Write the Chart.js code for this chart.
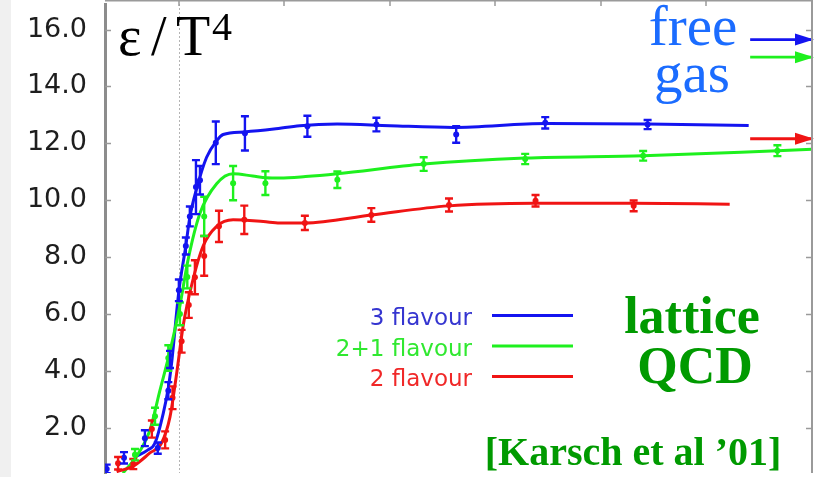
<!DOCTYPE html>
<html>
<head>
<meta charset="utf-8">
<script src="https://cdn.jsdelivr.net/npm/chart.js@4/dist/chart.umd.min.js"></script>
<style>
  html, body { margin: 0; padding: 0; background: #fff; }
  #wrap { position: relative; width: 816px; height: 477px; overflow: hidden; }
</style>
</head>
<body>
<div id="wrap"><canvas id="c" width="816" height="477"></canvas></div>
<script>
// ---------- data ----------
const yTicks = [2, 4, 6, 8, 10, 12, 14, 16];
const xTopTicks = [1.0, 1.5, 2.0, 2.5, 3.0, 3.5, 4.0];
const tcValue = 1.0;

const seriesNames = ['3 flavour', '2+1 flavour', '2 flavour'];

// smooth fit curves
const blueCurveX = [0.80, 0.85, 0.887, 0.926, 0.95, 0.966, 1.0, 1.033, 1.052, 1.084, 1.131, 1.178, 1.21, 1.31, 1.45, 1.573, 1.75, 2.0, 2.3, 2.74, 3.22, 3.70];
const blueCurveY = [1.0, 1.2, 1.46, 2.5, 3.4, 4.3, 6.8, 8.4, 9.4, 10.4, 11.5, 12.08, 12.31, 12.4, 12.5, 12.62, 12.68, 12.62, 12.56, 12.7, 12.68, 12.63];

const greenCurveX = [0.735, 0.80, 0.863, 0.91, 0.958, 1.005, 1.044, 1.10, 1.179, 1.257, 1.35, 1.415, 1.478, 1.60, 1.751, 2.16, 2.641, 3.20, 3.836, 4.0];
const greenCurveY = [0.40, 1.0, 1.92, 3.3, 4.69, 6.3, 7.92, 9.54, 10.58, 10.93, 10.85, 10.79, 10.78, 10.83, 10.93, 11.27, 11.48, 11.56, 11.74, 11.79];

const redCurveX = [0.705, 0.784, 0.863, 0.918, 0.958, 0.989, 1.021, 1.06, 1.115, 1.179, 1.257, 1.40, 1.478, 1.597, 1.912, 2.278, 2.685, 3.149, 3.61];
const redCurveY = [0.45, 0.65, 1.11, 1.46, 2.38, 3.88, 5.61, 7.0, 8.39, 9.08, 9.31, 9.25, 9.2, 9.2, 9.48, 9.8, 9.89, 9.89, 9.86];

// lattice data points with errors
const bluePtsX = [0.658, 0.740, 0.839, 0.90, 0.95, 0.958, 1.0, 1.033, 1.052, 1.081, 1.10, 1.175, 1.313, 1.609, 1.936, 2.314, 2.736, 3.221];
const bluePtsY = [0.55, 0.94, 1.63, 1.28, 3.3, 4.4, 6.83, 8.39, 9.43, 10.46, 10.7, 12.02, 12.35, 12.6, 12.66, 12.31, 12.72, 12.66];
const bluePtsErr = [0.15, 0.2, 0.28, 0.2, 0.3, 0.3, 0.38, 0.3, 0.35, 0.95, 0.5, 0.75, 0.6, 0.37, 0.24, 0.29, 0.2, 0.16];

const greenPtsX = [0.792, 0.887, 0.95, 1.005, 1.04, 1.12, 1.257, 1.41, 1.751, 2.16, 2.641, 3.20, 3.836];
const greenPtsY = [1.05, 2.4, 4.45, 6.0, 7.3, 9.43, 10.6, 10.6, 10.72, 11.27, 11.45, 11.56, 11.74];
const greenPtsErr = [0.2, 0.3, 0.45, 0.4, 0.4, 0.69, 0.6, 0.42, 0.29, 0.24, 0.18, 0.17, 0.19];

const redPtsX = [0.712, 0.784, 0.872, 0.935, 0.97, 1.013, 1.047, 1.076, 1.12, 1.19, 1.31, 1.597, 1.912, 2.28, 2.69, 3.155];
const redPtsY = [0.75, 0.72, 1.95, 1.57, 3.05, 5.04, 6.31, 7.29, 8.04, 9.08, 9.31, 9.2, 9.48, 9.83, 9.98, 9.8];
const redPtsErr = [0.22, 0.18, 0.3, 0.3, 0.4, 0.4, 0.45, 0.6, 0.7, 0.55, 0.5, 0.25, 0.24, 0.23, 0.2, 0.19];

// free gas (Stefan-Boltzmann) limits
const sbX = [3.707, 4.0];
const sbBlue = 15.65;
const sbGreen = 15.03;
const sbRed = 12.16;

// ---------- helpers ----------
const pts = (xs, ys) => xs.map((x, i) => ({ x: x, y: ys[i] }));
const BLUE = '#1414f0', GREEN = '#1ef01e', RED = '#f01414';

function curve(xs, ys, color) {
  return { data: pts(xs, ys), showLine: true, borderColor: color, backgroundColor: color,
    borderWidth: 3, pointRadius: 0, cubicInterpolationMode: 'monotone', order: 2 };
}
function points(xs, ys, errs, color) {
  return { data: pts(xs, ys), errors: errs, showLine: false, borderColor: color, backgroundColor: color,
    pointRadius: 3, pointStyle: 'circle', borderWidth: 0, order: 1 };
}
function arrow(v, color) {
  return { data: pts(sbX, [v, v]), arrow: true, showLine: true, borderColor: color, backgroundColor: color,
    borderWidth: 2.8, pointRadius: 0, clip: false, order: 0 };
}

// ---------- plugins ----------
const bgPlugin = {
  id: 'bg',
  beforeDraw(chart) {
    const ctx = chart.ctx;
    ctx.save();
    ctx.fillStyle = '#ffffff';
    ctx.fillRect(0, 0, chart.width, chart.height);
    ctx.fillStyle = '#f0f0f0';
    ctx.fillRect(0, 0, 11, chart.height);
    ctx.restore();
  },
  beforeDatasetsDraw(chart) {
    const { ctx, chartArea: a, scales: { x } } = chart;
    ctx.save();
    ctx.strokeStyle = '#b4b4b4';
    ctx.lineWidth = 1;
    ctx.setLineDash([2, 2]);
    const px = Math.round(x.getPixelForValue(tcValue)) + 0.5;
    ctx.beginPath(); ctx.moveTo(px, a.top); ctx.lineTo(px, a.bottom); ctx.stroke();
    ctx.restore();
  }
};

const errorBars = {
  id: 'errorBars',
  afterDatasetsDraw(chart) {
    const { ctx, chartArea: a, scales: { x, y } } = chart;
    ctx.save();
    ctx.beginPath(); ctx.rect(a.left, a.top, a.right - a.left, a.bottom - a.top); ctx.clip();
    chart.data.datasets.forEach(ds => {
      if (!ds.errors) return;
      ctx.strokeStyle = ds.borderColor;
      ctx.lineWidth = 2.4;
      ds.data.forEach((p, j) => {
        const px = x.getPixelForValue(p.x);
        const y1 = y.getPixelForValue(p.y - ds.errors[j]);
        const y2 = y.getPixelForValue(p.y + ds.errors[j]);
        ctx.beginPath();
        ctx.moveTo(px, y1); ctx.lineTo(px, y2);
        ctx.moveTo(px - 4, y1); ctx.lineTo(px + 4, y1);
        ctx.moveTo(px - 4, y2); ctx.lineTo(px + 4, y2);
        ctx.stroke();
      });
    });
    ctx.restore();
    // arrow heads
    ctx.save();
    chart.data.datasets.forEach(ds => {
      if (!ds.arrow) return;
      const last = ds.data[ds.data.length - 1];
      const px = x.getPixelForValue(last.x) + 2;
      const py = y.getPixelForValue(last.y);
      ctx.fillStyle = ds.borderColor;
      ctx.beginPath();
      ctx.moveTo(px, py); ctx.lineTo(px - 19, py - 6); ctx.lineTo(px - 19, py + 6); ctx.closePath();
      ctx.fill();
    });
    ctx.restore();
  }
};

const framePlugin = {
  id: 'frame',
  afterDraw(chart) {
    const { ctx, chartArea: a, scales: { x, y } } = chart;
    ctx.save();
    ctx.strokeStyle = '#9a9a9a';
    // top border
    ctx.lineWidth = 1.5;
    ctx.beginPath(); ctx.moveTo(a.left, 0.75); ctx.lineTo(a.right, 0.75); ctx.stroke();
    // right border
    ctx.lineWidth = 2;
    ctx.beginPath(); ctx.moveTo(a.right, 0); ctx.lineTo(a.right, a.bottom); ctx.stroke();
    // top ticks
    ctx.lineWidth = 1.5;
    xTopTicks.forEach(v => {
      const px = Math.round(x.getPixelForValue(v));
      ctx.beginPath(); ctx.moveTo(px, 0); ctx.lineTo(px, 6); ctx.stroke();
    });
    // left / right inner ticks
    yTicks.forEach(v => {
      const py = Math.round(y.getPixelForValue(v)) + 0.5;
      ctx.beginPath(); ctx.moveTo(a.left, py); ctx.lineTo(a.left + 6, py); ctx.stroke();
      ctx.beginPath(); ctx.moveTo(a.right, py); ctx.lineTo(a.right - 6, py); ctx.stroke();
    });
    ctx.restore();

    // annotations
    ctx.save();
    ctx.textBaseline = 'alphabetic';
    ctx.fillStyle = '#000';
    ctx.font = '56px "Liberation Serif"';
    ctx.textAlign = 'left';
    ctx.fillText('ε', 118, 55);
    ctx.fillText('/', 151, 55);
    ctx.fillText('T', 176, 55);
    ctx.font = '40px "Liberation Serif"';
    ctx.fillText('4', 212, 40);

    ctx.textAlign = 'center';
    ctx.fillStyle = '#1b6cff';
    ctx.font = '57px "Liberation Serif"';
    ctx.fillText('free', 693, 45);
    ctx.fillText('gas', 692, 92);

    ctx.fillStyle = '#009a00';
    ctx.font = 'bold 52px "Liberation Serif"';
    ctx.fillText('lattice', 692, 333);
    ctx.fillText('QCD', 695, 383);
    ctx.font = 'bold 40px "Liberation Serif"';
    ctx.fillText('[Karsch et al ’01]', 633, 465);

    // legend
    const legendColors = ['#3535d0', '#30e830', '#f02828'];
    const lineColors = [BLUE, GREEN, RED];
    const base = [325, 355.5, 386];
    ctx.font = '23px "DejaVu Sans"';
    ctx.textAlign = 'right';
    seriesNames.forEach((n, i) => {
      ctx.fillStyle = legendColors[i];
      ctx.fillText(n, 472, base[i]);
      ctx.strokeStyle = lineColors[i];
      ctx.lineWidth = 3;
      ctx.beginPath(); ctx.moveTo(492, base[i] - 9.5); ctx.lineTo(573, base[i] - 9.5); ctx.stroke();
    });
    ctx.restore();
  }
};

// ---------- chart ----------
new Chart(document.getElementById('c'), {
  type: 'scatter',
  data: {
    datasets: [
      curve(redCurveX, redCurveY, RED),
      curve(greenCurveX, greenCurveY, GREEN),
      curve(blueCurveX, blueCurveY, BLUE),
      points(redPtsX, redPtsY, redPtsErr, RED),
      points(greenPtsX, greenPtsY, greenPtsErr, GREEN),
      points(bluePtsX, bluePtsY, bluePtsErr, BLUE),
      arrow(sbBlue, BLUE),
      arrow(sbGreen, GREEN),
      arrow(sbRed, RED)
    ]
  },
  options: {
    responsive: false,
    animation: false,
    devicePixelRatio: 1,
    layout: { padding: { top: 1, right: 3, bottom: 0, left: 0 } },
    plugins: { legend: { display: false }, tooltip: { enabled: false } },
    scales: {
      x: { type: 'linear', min: 0.65, max: 4.0, display: false },
      y: {
        type: 'linear', position: 'left', min: 0.405, max: 16.9,
        afterFit: s => { s.width = 105; s.paddingTop = 0; s.paddingBottom = 0; },
        afterBuildTicks: s => { s.ticks = yTicks.map(v => ({ value: v })); },
        ticks: {
          callback: v => Number(v).toFixed(1),
          font: { family: 'DejaVu Sans', size: 27 },
          color: '#1e1e1e',
          padding: 18
        },
        grid: { drawOnChartArea: false, drawTicks: false },
        border: { color: '#8c8c8c', width: 3 }
      }
    }
  },
  plugins: [bgPlugin, errorBars, framePlugin]
});
</script>
</body>
</html>
